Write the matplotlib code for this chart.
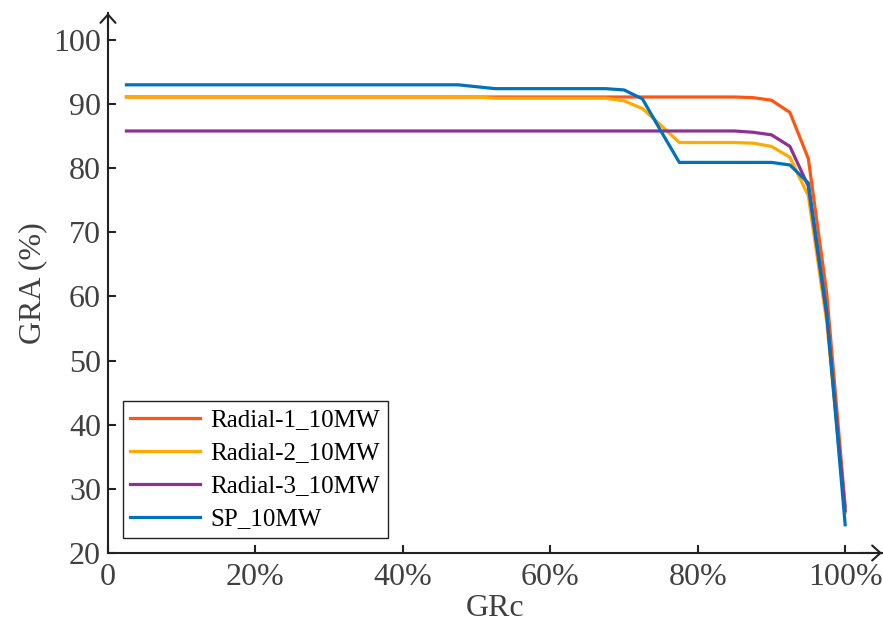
import matplotlib.pyplot as plt

plt.rcParams['font.family'] = ['Liberation Serif', 'DejaVu Serif']

# GRc axis (fraction), steps of 2.5 %
grc = [0.025, 0.05, 0.075, 0.10, 0.125, 0.15, 0.175, 0.20, 0.225, 0.25,
       0.275, 0.30, 0.325, 0.35, 0.375, 0.40, 0.425, 0.45, 0.475, 0.50,
       0.525, 0.55, 0.575, 0.60, 0.625, 0.65, 0.675, 0.70, 0.725, 0.75,
       0.775, 0.80, 0.825, 0.85, 0.875, 0.90, 0.925, 0.95, 0.975, 1.00]

# GRA (%) per configuration
radial1 = [91.1] * 34 + [91.0, 90.6, 88.7, 81.5, 60.5, 27.3]
radial2 = ([91.1] * 20 + [90.9] * 7 +
           [90.5, 89.3, 86.7, 84.0, 84.0, 84.0, 84.0, 83.9, 83.4, 81.7, 75.7, 56.0, 26.3])
radial3 = [85.8] * 34 + [85.6, 85.2, 83.4, 77.2, 57.0, 26.6]
sp = ([93.0] * 19 + [92.7] + [92.4] * 7 +
      [92.2, 90.8, 85.8] + [80.9] * 6 + [80.5, 77.7, 57.5, 24.4])

names = ['Radial-1_10MW', 'Radial-2_10MW', 'Radial-3_10MW', 'SP_10MW']
colors = ['#FF5511', '#FFAA00', '#8E3192', '#0072BD']

xticks = [0, 0.2, 0.4, 0.6, 0.8, 1.0]
xticklabels = ['0', '20%', '40%', '60%', '80%', '100%']
yticks = [20, 30, 40, 50, 60, 70, 80, 90, 100]

fig = plt.figure(figsize=(8.83, 6.24), dpi=100)
ax = fig.add_axes([0.1223, 0.1138, 0.8766, 0.8654])

for vals, name, c in zip([radial1, radial2, radial3, sp], names, colors):
    ax.plot(grc, vals, color=c, lw=2.3, label=name)

ax.set_xlim(0, 1.05)
ax.set_ylim(20, 104.2)
ax.set_xticks(xticks)
ax.set_xticklabels(xticklabels)
ax.set_yticks(yticks)

axis_col = '#222222'
for s in ['top', 'right']:
    ax.spines[s].set_visible(False)
for s in ['left', 'bottom']:
    ax.spines[s].set_linewidth(1.5)
    ax.spines[s].set_color(axis_col)

# arrow heads at the axis ends
arrow = dict(arrowstyle='->, head_length=0.4, head_width=0.36', lw=1.5,
             color=axis_col, mutation_scale=15, shrinkA=0, shrinkB=0)
ax.annotate('', xy=(1, 0), xytext=(0.97, 0), xycoords='axes fraction',
            arrowprops=arrow, annotation_clip=False)
ax.annotate('', xy=(0, 1), xytext=(0, 0.97), xycoords='axes fraction',
            arrowprops=arrow, annotation_clip=False)

ax.tick_params(direction='in', length=6, width=1.5, color=axis_col,
               labelsize=23, labelcolor='#404040', pad=5)
ax.tick_params(axis='x', pad=7)

ax.set_xlabel('GRc', fontsize=23, color='#404040', labelpad=2)
ax.set_ylabel('GRA (%)', fontsize=23, color='#404040', labelpad=4)

leg = ax.legend(loc='lower left', fontsize=18, frameon=True, fancybox=False,
                edgecolor='#222222', framealpha=1, labelspacing=0.42,
                handlelength=2.8, handletextpad=0.4, borderpad=0.3,
                borderaxespad=0.6)
leg.get_frame().set_linewidth(1.0)

fig.savefig('out.png', dpi=100)
